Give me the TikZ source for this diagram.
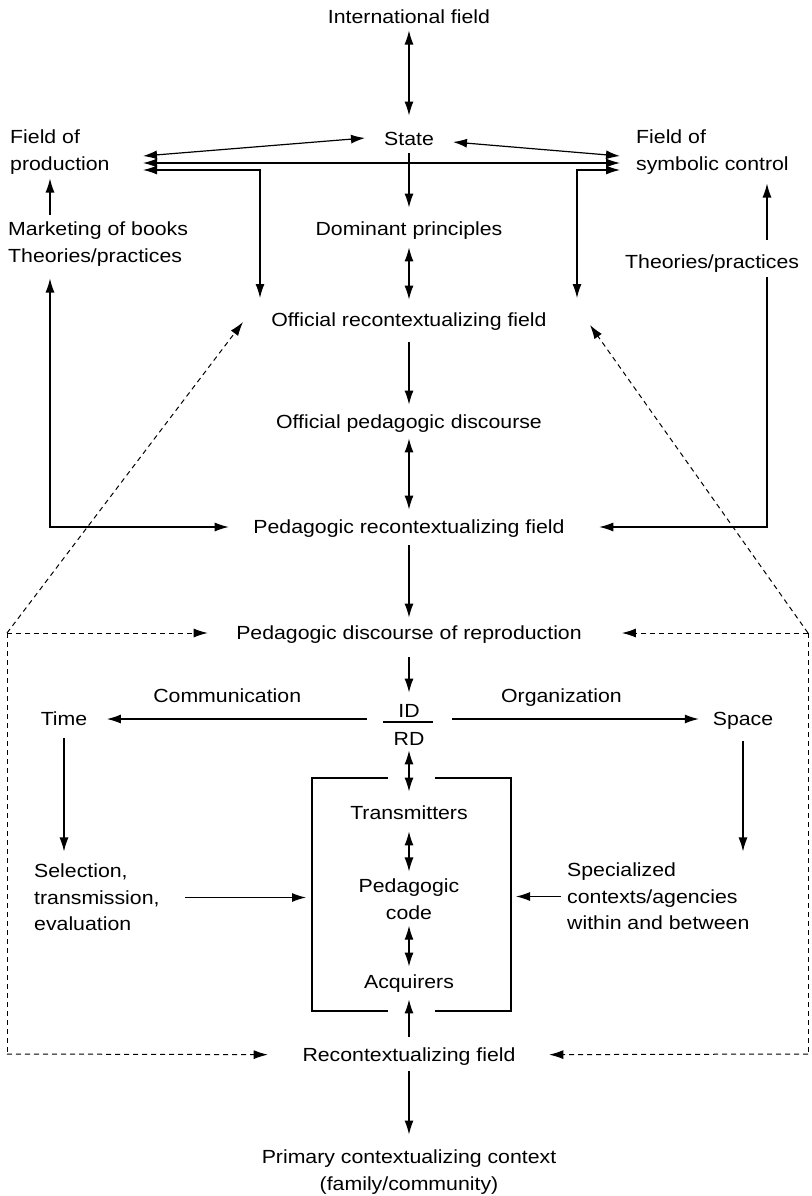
\documentclass[tikz,border=0pt]{standalone}
\usepackage{fontspec}
\setmainfont{Liberation Sans}[FakeStretch=1.12]
\usepackage{tikz}
\usetikzlibrary{arrows.meta}

\newcommand{\diagfont}{\fontsize{19bp}{26.5bp}\selectfont}

\tikzset{
    lbl/.style={inner sep=0pt, text height=13.6bp, text depth=0pt, font=\diagfont},
    blk/.style={inner sep=0pt, font=\diagfont},
    arr/.style={-{Latex[length=14bp,width=9bp]}, line width=1.2bp},
    darr/.style={{Latex[length=14bp,width=9bp]}-{Latex[length=14bp,width=9bp]}, line width=1.2bp},
    dln/.style={dash pattern=on 5bp off 4bp, line width=1bp},
    dsh/.style={dln, -{Latex[length=14bp,width=9bp]}},
    gap/.style 2 args={shorten <=#1bp, shorten >=#2bp}
}

\begin{document}
\begin{tikzpicture}[x=1bp,y=-1bp]
                \useasboundingbox (0,0) rectangle (812,1196);

                \node[lbl] (intl) at (409,16.5) {International field};
                \node[lbl] (state) at (409,139) {State};
                \node[lbl] (dom) at (409,229) {Dominant principles};
                \node[lbl] (offrec) at (409,320) {Official recontextualizing field};
                \node[lbl] (offped) at (409,422) {Official pedagogic discourse};
                \node[lbl] (pedrec) at (409,527) {Pedagogic recontextualizing field};
                \node[lbl] (pdr) at (409,633) {Pedagogic discourse of reproduction};
                \node[lbl] (id) at (409,711) {ID};
                \node[lbl] (rd) at (409,739) {RD};
                \node[lbl] (trans) at (409,813) {Transmitters};
                \node[blk, align=center] (pcode) at (409,899.3) {Pedagogic\\code};
                \node[lbl] (acq) at (409,982) {Acquirers};
                \node[lbl] (recf) at (409,1055) {Recontextualizing field};
                \node[blk, align=center] (prim) at (409,1172.2) {Primary contextualizing context\\(family/community)};

                \node[blk, align=left, anchor=west] (fprod) at (10,152.2) {Field of\\production};
                \node[blk, align=left, anchor=west] (fsym) at (636,152.2) {Field of\\symbolic control};
                \node[blk, align=left, anchor=west] (mkt) at (8,244.2) {Marketing of books\\Theories/practices};
                \node[lbl, anchor=west] (rtheo) at (625,262) {Theories/practices};
                \node[lbl] (time) at (64,719) {Time};
                \node[lbl] (space) at (743,719) {Space};
                \node[blk, align=left, anchor=west] (sel) at (34,897.5) {Selection,\\transmission,\\evaluation};
                \node[blk, align=left, anchor=west] (spec) at (567,896.5) {Specialized\\contexts/agencies\\within and between};

                \coordinate (sw) at (365,138);
                \coordinate (se) at (453,142);
                \coordinate (pa) at (143,156);
                \coordinate (pb) at (143,163);
                \coordinate (pc) at (143,170);
                \coordinate (ca) at (620,156);
                \coordinate (cb) at (620,163);
                \coordinate (cc) at (620,170);
                \coordinate (pd) at (260,298);
                \coordinate (cd) at (577,298);
                \coordinate (lx) at (50,0);
                \coordinate (rx) at (767,0);
                \coordinate (idw) at (367,719);
                \coordinate (ide) at (452,719);
                \coordinate (bw) at (312,0);
                \coordinate (be) at (511,0);
                \coordinate (dl) at (7,633);
                \coordinate (dr) at (808,633);
                \coordinate (dlb) at (7,1054);
                \coordinate (drb) at (808,1054);
                \coordinate (ol) at (243,322);
                \coordinate (or) at (590,325);

                \draw[darr, gap={7}{16.4}] (intl) -- (state);
                \draw[darr] (sw) -- (pa);
                \draw[darr] (se) -- (ca);
                \draw[darr] (pb) -- (cb);
                \draw[darr] (pc) -| (pd);
                \draw[darr] (cc) -| (cd);
                \draw[arr, gap={7.4}{14.4}] (state) -- (dom);
                \draw[darr, gap={11.4}{13.4}] (dom) -- (offrec);
                \draw[arr, gap={15.4}{10.4}] (offrec) -- (offped);
                \draw[darr, gap={9.4}{10.4}] (offped) -- (pedrec);
                \draw[arr, gap={11.4}{8.4}] (pedrec) -- (pdr);
                \draw[arr, gap={17.4}{11.4}] (pdr) -- (id);

                \draw[arr, gap={7.4}{4}] (mkt.north -| lx) -- (fprod.south -| lx);
                \draw[arr, gap={15.4}{9}] (rtheo.north -| rx) -- (fsym.south -| rx);
                \draw[darr, gap={12}{24.5}] (mkt.south -| lx) |- (pedrec);
                \draw[arr, gap={8.4}{34.5}] (rtheo.south -| rx) |- (pedrec);

                \draw[line width=1.1bp] (383,722) -- (433,722);
                \draw[arr, gap={0}{19.4}] (idw) -- (time) node[lbl, pos=0.5, above=15.5bp] (comm) {Communication};
                \draw[arr, gap={0}{13.8}] (ide) -- (space) node[lbl, pos=0.42, above=15.5bp] (org) {Organization};
                \draw[arr, gap={12.4}{12.4}] (time) -- (time |- sel.north);
                \draw[arr, gap={15.4}{11.4}] (space) -- (space |- spec.north);

                \draw[line width=1.1bp] (388,778) -| (312,1011) -- (388,1011);
                \draw[line width=1.1bp] (435,778) -| (511,1011) -- (435,1011);
                \draw[darr, gap={4.4}{14.4}] (rd) -- (trans);
                \draw[darr, gap={11.4}{7.4}] (trans) -- (pcode);
                \draw[darr, gap={6}{8.4}] (pcode) -- (acq);
                \draw[arr, gap={11.4}{10.4}] (recf) -- (acq);
                \draw[arr, gap={9.4}{15.4}] (recf) -- (prim);
                \draw[arr, gap={25.7}{6}] (sel) -- (sel -| bw);
                \draw[arr, gap={6}{5}] (spec) -- (spec -| be);

                \draw[dsh] (dl) -- (ol);
                \draw[dsh] (dr) -- (or);
                \draw[dsh, gap={0}{28.4}] (dl) -- (pdr);
                \draw[dsh, gap={0}{40}] (dr) -- (pdr);
                \draw[dln] (dl) -- (dlb);
                \draw[dln] (dr) -- (drb);
                \draw[dsh, gap={0}{34.6}] (dlb) -- (recf);
                \draw[dsh, gap={0}{33.6}] (drb) -- (recf);
\end{tikzpicture}
\end{document}
